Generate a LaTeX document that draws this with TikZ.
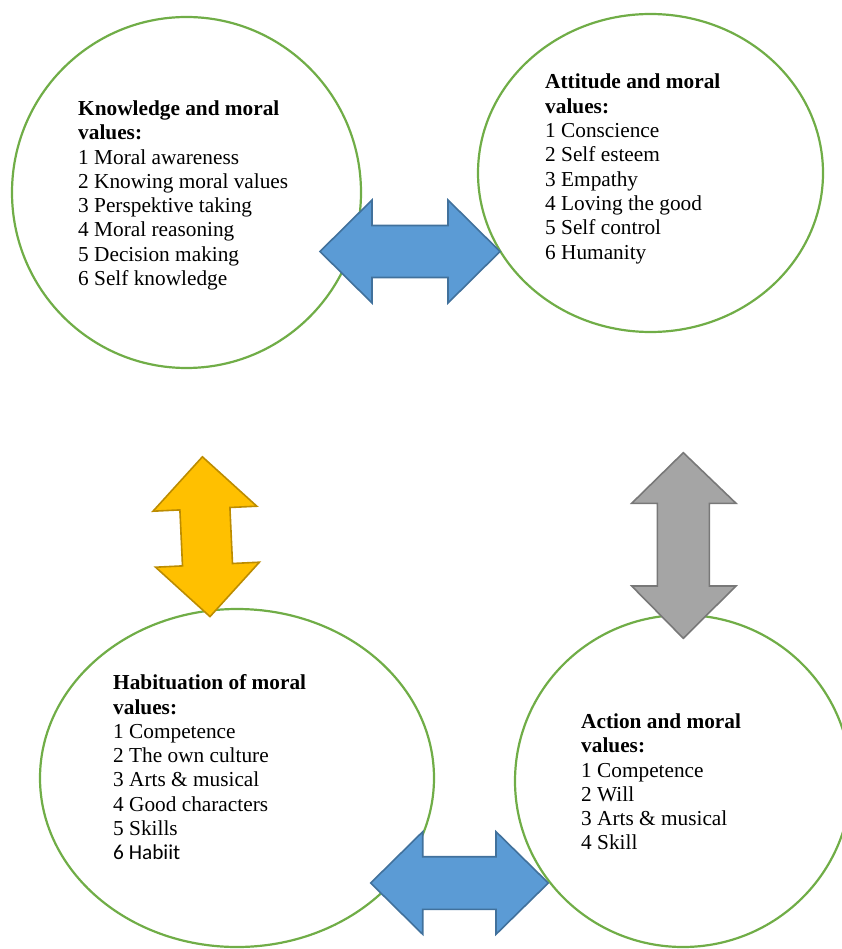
\documentclass[tikz,border=0pt]{standalone}
\usepackage{fontspec}
\setmainfont{Liberation Serif}
\newfontfamily\calfont{Carlito}
\usetikzlibrary{shapes.geometric}
\definecolor{ringgreen}{HTML}{70AD47}
\definecolor{bluefill}{HTML}{5B9BD5}
\definecolor{blueline}{HTML}{41719C}
\definecolor{yelfill}{HTML}{FFC000}
\definecolor{yelline}{HTML}{BC8C00}
\definecolor{grayfill}{HTML}{A5A5A5}
\definecolor{grayline}{HTML}{787878}
\tikzset{
  ring/.style={ellipse, draw=ringgreen, line width=2.2pt, inner sep=0pt},
  txt/.style={anchor=north west, inner sep=0pt, align=left,
    font={\fontsize{21.3}{24.3}\selectfont}},
  bluearrow/.style={fill=bluefill, draw=blueline, line width=1.6pt, line join=miter},
  yelarrow/.style={fill=yelfill, draw=yelline, line width=1.6pt, line join=miter},
  grayarrow/.style={fill=grayfill, draw=grayline, line width=1.6pt, line join=miter}
}
\begin{document}
\begin{tikzpicture}[x=1pt,y=-1pt]
\useasboundingbox (0,0) rectangle (842,949);
\begin{scope}
\clip (0,0) rectangle (842,949);
% circles
\node[ring, minimum width=349pt, minimum height=351pt] (c1) at (186.5,192.5) {};
\node[ring, minimum width=345pt, minimum height=318pt] (c2) at (650.5,173) {};
\node[ring, minimum width=394pt, minimum height=338pt] (c3) at (237,778) {};
\node[ring, minimum width=336pt, minimum height=332pt] (c4) at (683,781) {};

% texts
\node[txt] (t1) at (78,100.5) {\textbf{Knowledge and moral}\\\textbf{values:}\\1 Moral awareness\\2 Knowing moral values\\3 Perspektive taking\\4 Moral reasoning\\5 Decision making\\6 Self knowledge};
\node[txt] (t2) at (545,74) {\textbf{Attitude and moral}\\\textbf{values:}\\1 Conscience\\2 Self esteem\\3 Empathy\\4 Loving the good\\5 Self control\\6 Humanity};
\node[txt] (t3) at (113,674.5) {\textbf{Habituation of moral}\\\textbf{values:}\\1 Competence\\2 The own culture\\3 Arts \& musical\\4 Good characters\\5 Skills\\{\calfont 6 Habiit}};
\node[txt] (t4) at (581,713.5) {\textbf{Action and moral}\\\textbf{values:}\\1 Competence\\2 Will\\3 Arts \& musical\\4 Skill};

% block arrows
\draw[bluearrow] (320,251.5) -- (372,200) -- (372,225.5) -- (448,225.5) -- (448,200) -- (500,251.5)
  -- (448,303) -- (448,277.5) -- (372,277.5) -- (372,303) -- cycle;
\draw[bluearrow] (370.7,883) -- (422.7,831.7) -- (422.7,856.7) -- (496,856.7) -- (496,831.7) -- (548.3,883)
  -- (496,934.3) -- (496,909.3) -- (422.7,909.3) -- (422.7,934.3) -- cycle;
\draw[grayarrow] (683.3,452.7) -- (736,503.3) -- (709.3,503.3) -- (709.3,586) -- (736,586) -- (683.3,638.3)
  -- (631.7,586) -- (657.3,586) -- (657.3,503.3) -- (631.7,503.3) -- cycle;
\draw[yelarrow] (202.4,456.8) -- (256.8,506.2) -- (229.9,507.5) -- (232.5,563.5) -- (259.4,562.2) -- (210.0,616.6)
  -- (155.6,567.2) -- (182.5,565.9) -- (179.9,509.9) -- (153.0,511.2) -- cycle;
\end{scope}
\end{tikzpicture}
\end{document}
